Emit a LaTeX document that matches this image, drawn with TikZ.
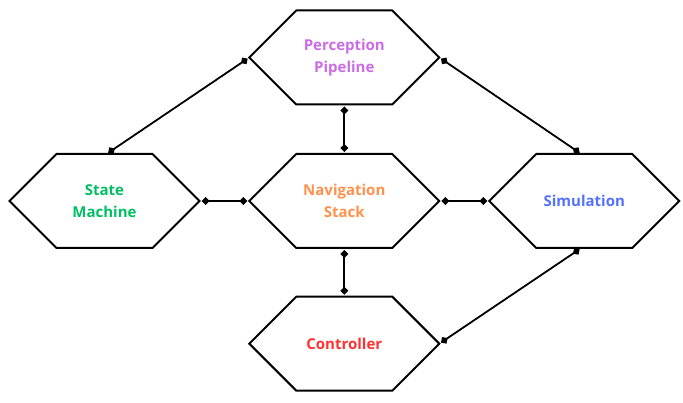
\documentclass[tikz,border=0pt]{standalone}
\usepackage{fontspec}
\setmainfont{Open Sans}
\usetikzlibrary{arrows.meta}
\definecolor{cpurple}{HTML}{CB6CE6}
\definecolor{corange}{HTML}{FF914D}
\definecolor{cgreen}{HTML}{00BF63}
\definecolor{cblue}{HTML}{5271FF}
\definecolor{cred}{HTML}{FF3131}
\newcommand\drawhex[1]{\draw[hexline] (#1.west) -- ([xshift=47pt]#1.north west) -- ([xshift=-47pt]#1.north east) -- (#1.east) -- ([xshift=-47pt]#1.south east) -- ([xshift=47pt]#1.south west) -- cycle;}
\tikzset{
  hex/.style={minimum width=190pt, minimum height=94pt, inner sep=0pt, outer sep=0pt, align=center, font=\fontsize{15pt}{21.5pt}\selectfont\bfseries},
  hexline/.style={line width=2pt, line join=miter, black},
  conn/.style={line width=1.8pt, black, {Diamond[width=8pt,length=8pt]}-{Diamond[width=8pt,length=8pt]}, shorten >=2pt, shorten <=2pt}
}
\begin{document}
\begin{tikzpicture}[x=1pt,y=1pt]
\useasboundingbox (0,0) rectangle (683,402);
\node[hex, text=cpurple] (pp) at (344.3,344.5) {Perception\\Pipeline};
\node[hex, text=corange] (nav) at (344.3,201) {Navigation\\Stack};
\node[hex, text=cgreen] (st) at (104.5,201) {State\\Machine};
\node[hex, text=cblue] (sim) at (584.3,201) {Simulation};
\node[hex, text=cred] (ct) at (344.3,58.3) {Controller};
\drawhex{pp}
\drawhex{nav}
\drawhex{st}
\drawhex{sim}
\drawhex{ct}
\draw[conn] ([xshift=2pt]st.north) -- (pp.west);
\draw[conn] (pp.east) -- ([xshift=-3pt]sim.north);
\draw[conn] (pp.south) -- (nav.north);
\draw[conn] (st.east) -- (nav.west);
\draw[conn] (nav.east) -- (sim.west);
\draw[conn] (nav.south) -- (ct.north);
\draw[conn] (ct.east) -- ([xshift=-3pt]sim.south);
\end{tikzpicture}
\end{document}
